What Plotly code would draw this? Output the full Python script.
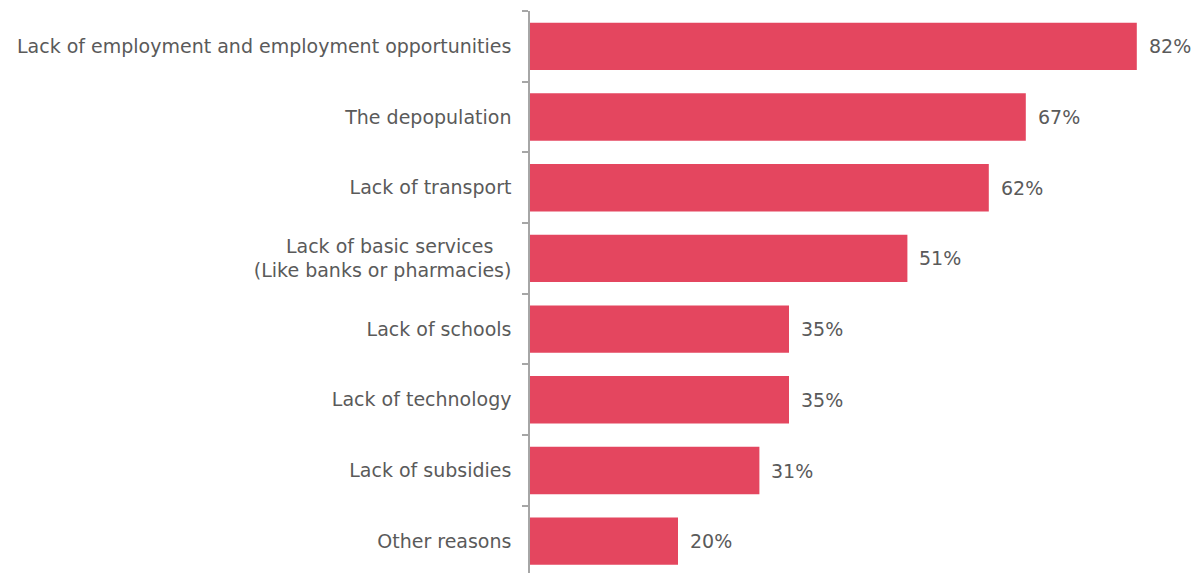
import plotly.graph_objects as go

categories = [
    "Lack of employment and employment opportunities",
    "The depopulation",
    "Lack of transport",
    "Lack of basic services&nbsp;&nbsp;&nbsp;<br>(Like banks or pharmacies)",
    "Lack of schools",
    "Lack of technology",
    "Lack of subsidies",
    "Other reasons",
]
values = [82, 67, 62, 51, 35, 35, 31, 20]
value_labels = ["82%", "67%", "62%", "51%", "35%", "35%", "31%", "20%"]

BAR_COLOR = "#E4465F"
TEXT_COLOR = "#5A5A5A"
AXIS_COLOR = "#A6A6A6"
FONT = "DejaVu Sans, sans-serif"

fig = go.Figure(
    go.Bar(
        x=values,
        y=categories,
        orientation="h",
        marker=dict(color=BAR_COLOR, line=dict(width=0)),
        width=0.67,
        hoverinfo="skip",
    )
)

for cat, v, lbl in zip(categories, values, value_labels):
    fig.add_annotation(
        x=v, y=cat, text=lbl, showarrow=False,
        xanchor="left", xshift=10,
        font=dict(family=FONT, size=19, color=TEXT_COLOR),
    )

fig.update_layout(
    width=1202,
    height=573,
    margin=dict(l=530, r=6, t=11, b=0),
    plot_bgcolor="white",
    paper_bgcolor="white",
    showlegend=False,
    font=dict(family=FONT, size=19, color=TEXT_COLOR),
)
fig.update_xaxes(
    range=[0, 90],
    visible=False,
)
fig.update_yaxes(
    type="category",
    categoryorder="array",
    categoryarray=categories,
    range=[7.45, -0.5],
    showline=True,
    linecolor=AXIS_COLOR,
    linewidth=1.5,
    ticks="outside",
    tickson="boundaries",
    ticklen=6,
    tickcolor=AXIS_COLOR,
    tickwidth=1.5,
    showgrid=False,
    ticklabelstandoff=13,
    tickfont=dict(family=FONT, size=19, color=TEXT_COLOR),
)

fig.write_html("out.html")
